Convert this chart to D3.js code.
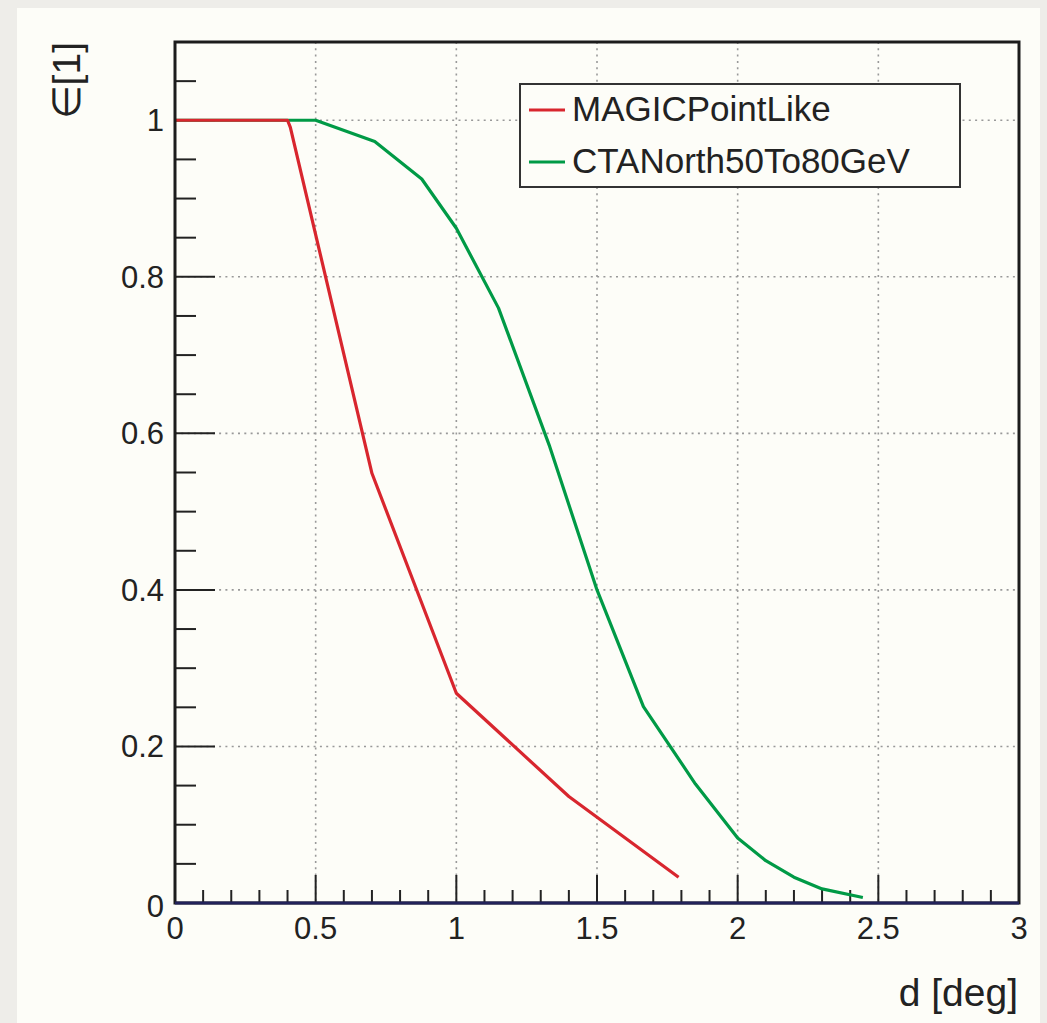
<!DOCTYPE html>
<html>
<head>
<meta charset="utf-8">
<script src="https://cdn.jsdelivr.net/npm/d3@7"></script>
<style>
  body { margin: 0; background: #eeede9; }
  svg { display: block; }
  text { font-family: "Liberation Sans", Arial, Helvetica, sans-serif; fill: #222; }
</style>
</head>
<body>
<div id="chart"></div>
<script>
// MAGICPointLike
const magicX = [0, 0.4, 0.41, 0.7, 1.0, 1.4, 1.79];
const magicY = [1, 1, 0.991, 0.549, 0.268, 0.136, 0.033];
// CTANorth50To80GeV
const ctaX = [0, 0.5, 0.71, 0.877, 1.0, 1.15, 1.33, 1.5, 1.665, 1.85, 2.0, 2.1, 2.2, 2.3, 2.445];
const ctaY = [1, 1, 0.973, 0.925, 0.862, 0.76, 0.585, 0.40, 0.251, 0.152, 0.083, 0.054, 0.033, 0.018, 0.007];

const xMajor = [0, 0.5, 1, 1.5, 2, 2.5, 3];
const xMajorLabels = ["0", "0.5", "1", "1.5", "2", "2.5", "3"];
const yMajor = [0, 0.2, 0.4, 0.6, 0.8, 1];
const yMajorLabels = ["0", "0.2", "0.4", "0.6", "0.8", "1"];

const legendNames = ["MAGICPointLike", "CTANorth50To80GeV"];
const legendColors = ["#d8262e", "#009a46"];

const W = 1047, H = 1023;
const padL = 175, padR = 1019, padT = 42, padB = 903;

const svg = d3.select("#chart").append("svg")
    .attr("width", W).attr("height", H);

svg.append("rect").attr("x", 0).attr("y", 0).attr("width", W).attr("height", H).attr("fill", "#eeede9");
svg.append("rect").attr("x", 17).attr("y", 8).attr("width", 1023).attr("height", H - 8).attr("fill", "#fdfdf8");

const x = d3.scaleLinear().domain([0, 3]).range([padL, padR]);
const y = d3.scaleLinear().domain([0, 1.1]).range([padB, padT]);

// grid
svg.selectAll(".gx")
    .data(xMajor.filter(function (d) { return d > 0 && d < 3; }))
    .enter().append("line")
    .attr("x1", function (d) { return x(d); })
    .attr("x2", function (d) { return x(d); })
    .attr("y1", padT).attr("y2", padB)
    .attr("stroke", "#999").attr("stroke-width", 1.6)
    .attr("stroke-dasharray", "2,4.3");
svg.selectAll(".gy")
    .data(yMajor.filter(function (d) { return d > 0; }))
    .enter().append("line")
    .attr("y1", function (d) { return y(d); })
    .attr("y2", function (d) { return y(d); })
    .attr("x1", padL).attr("x2", padR)
    .attr("stroke", "#999").attr("stroke-width", 1.6)
    .attr("stroke-dasharray", "2,4.3");

// ticks
const xMinor = d3.range(0, 31).map(function (i) { return i / 10; });
svg.selectAll(".tx")
    .data(xMinor)
    .enter().append("line")
    .attr("x1", function (d) { return x(d); })
    .attr("x2", function (d) { return x(d); })
    .attr("y1", padB)
    .attr("y2", function (d, i) { return padB - (i % 5 === 0 ? 28 : 13); })
    .attr("stroke", "#222").attr("stroke-width", 2);

const yMinor = d3.range(0, 23).map(function (i) { return i * 0.05; });
svg.selectAll(".ty")
    .data(yMinor)
    .enter().append("line")
    .attr("y1", function (d) { return y(d); })
    .attr("y2", function (d) { return y(d); })
    .attr("x1", padL)
    .attr("x2", function (d, i) { return padL + (i % 4 === 0 ? 40 : 21); })
    .attr("stroke", "#222").attr("stroke-width", 2);

// curves
const line = d3.line()
    .x(function (d) { return x(d[0]); })
    .y(function (d) { return y(d[1]); });

svg.append("path")
    .datum(ctaX.map(function (d, i) { return [d, ctaY[i]]; }))
    .attr("d", line)
    .attr("fill", "none").attr("stroke", legendColors[1]).attr("stroke-width", 3.2)
    .attr("stroke-linejoin", "round");
svg.append("path")
    .datum(magicX.map(function (d, i) { return [d, magicY[i]]; }))
    .attr("d", line)
    .attr("fill", "none").attr("stroke", legendColors[0]).attr("stroke-width", 3.2)
    .attr("stroke-linejoin", "round");

// frame
svg.append("rect")
    .attr("x", padL).attr("y", padT)
    .attr("width", padR - padL).attr("height", padB - padT)
    .attr("fill", "none").attr("stroke", "#1c1c1c").attr("stroke-width", 3);
svg.append("line")
    .attr("x1", padL).attr("x2", padR)
    .attr("y1", padB).attr("y2", padB)
    .attr("stroke", "#22225a").attr("stroke-width", 3);

// tick labels
svg.selectAll(".lx")
    .data(xMajor)
    .enter().append("text")
    .attr("x", function (d) { return x(d); })
    .attr("y", 939)
    .attr("text-anchor", "middle")
    .attr("font-size", 31)
    .text(function (d, i) { return xMajorLabels[i]; });

svg.selectAll(".ly")
    .data(yMajor)
    .enter().append("text")
    .attr("x", 164)
    .attr("y", function (d) { return y(d) + 11 + (d === 0 ? 3 : 0); })
    .attr("text-anchor", "end")
    .attr("font-size", 31)
    .text(function (d, i) { return yMajorLabels[i]; });

// axis titles
svg.append("text")
    .attr("x", 1018).attr("y", 1006)
    .attr("text-anchor", "end")
    .attr("font-size", 39)
    .text("d [deg]");
svg.append("text")
    .attr("transform", "translate(80,42) rotate(-90)")
    .attr("text-anchor", "end")
    .attr("font-size", 39)
    .text("\u2208[1]");

// legend
const legend = svg.append("g");
legend.append("rect")
    .attr("x", 520).attr("y", 84)
    .attr("width", 440).attr("height", 103)
    .attr("fill", "#fdfdf8").attr("stroke", "#333").attr("stroke-width", 2);
legend.selectAll(".ll")
    .data(legendNames)
    .enter().append("line")
    .attr("x1", 529).attr("x2", 565)
    .attr("y1", function (d, i) { return 110 + i * 52; })
    .attr("y2", function (d, i) { return 110 + i * 52; })
    .attr("stroke", function (d, i) { return legendColors[i]; })
    .attr("stroke-width", 3.2);
legend.selectAll(".lt")
    .data(legendNames)
    .enter().append("text")
    .attr("x", 572)
    .attr("y", function (d, i) { return 121 + i * 52; })
    .attr("font-size", 35)
    .text(function (d) { return d; });
</script>
</body>
</html>
